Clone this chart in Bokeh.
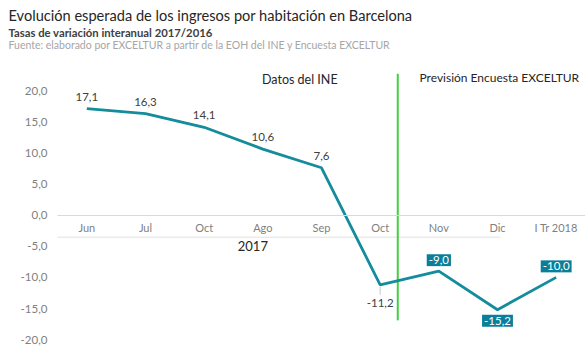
from bokeh.plotting import figure
from bokeh.models import ColumnDataSource, LabelSet, Label, FixedTicker, Range1d
from bokeh.core.properties import value
from bokeh.embed import file_html
from bokeh.resources import INLINE

# ---- data ----
categories = ["Jun", "Jul", "Oct", "Ago", "Sep", "Oct", "Nov", "Dic", "I Tr 2018"]
values = [17.1, 16.3, 14.1, 10.6, 7.6, -11.2, -9.0, -15.2, -10.0]
label_pos = ["above", "above", "above", "above", "above", "below", "above", "below", "above"]
boxed = [False, False, False, False, False, False, True, True, True]
y_ticks = [-20, -15, -10, -5, 0, 5, 10, 15, 20]
group_label = "2017"
title = "Evolución esperada de los ingresos por habitación en Barcelona"
subtitle = "Tasas de variación interanual 2017/2016"
source_txt = "Fuente: elaborado por EXCELTUR a partir de la EOH del INE y Encuesta EXCELTUR"
hdr_left = "Datos del INE"
hdr_right = "Previsión Encuesta EXCELTUR"

FONT = "Lato"
LINE_C = "#138c9c"
BOX_C = "#0b7f9a"


def fmt(v):
    return f"{v:.1f}".replace(".", ",")


xs = list(range(len(categories)))

# the frame covers the whole canvas; axes are pinned inside it
p = figure(width=585, height=351, output_backend="svg", toolbar_location=None,
           x_range=Range1d(-1.4715, 8.5), y_range=Range1d(-21.903, 34.455),
           min_border_left=0, min_border_right=0, min_border_top=0, min_border_bottom=0)
p.outline_line_color = None
p.background_fill_color = "white"
p.border_fill_color = "white"
p.xgrid.visible = False
p.ygrid.visible = False

# x axis at zero
xa = p.xaxis[0]
xa.fixed_location = 0
xa.bounds = (-0.5, 8.5)
xa.ticker = FixedTicker(ticks=xs)
xa.major_label_overrides = {i: c for i, c in zip(xs, categories)}
xa.axis_line_color = "#d9d9d9"
xa.axis_line_width = 1
xa.major_tick_line_color = None
xa.minor_tick_line_color = None
xa.major_label_text_color = "#7f7f7f"
xa.major_label_text_font = FONT
xa.major_label_text_font_size = "11px"
xa.major_label_standoff = 0

ya = p.yaxis[0]
ya.fixed_location = -0.5
ya.ticker = FixedTicker(ticks=y_ticks)
ya.major_label_overrides = {t: fmt(t) for t in y_ticks}
ya.axis_line_color = None
ya.major_tick_line_color = None
ya.minor_tick_line_color = None
ya.major_label_text_color = "#7f7f7f"
ya.major_label_text_font = FONT
ya.major_label_text_font_size = "11.5px"
ya.major_label_standoff = 4

# titles
p.add_layout(Label(x=-1.335, y=32.05, text=title, text_baseline="middle",
                   text_font=FONT, text_font_size="14.6px", text_color="#262626"))
p.add_layout(Label(x=-1.335, y=29.32, text=subtitle, text_baseline="middle",
                   text_font=FONT, text_font_size="11.3px", text_font_style="bold",
                   text_color="#404040"))
p.add_layout(Label(x=-1.335, y=27.39, text=source_txt, text_baseline="middle",
                   text_font=FONT, text_font_size="10.5px", text_color="#a6a6a6"))

# group separator and label under the category labels
p.segment(x0=[-0.5], y0=[-3.55], x1=[7.05], y1=[-3.55], line_color="#e3e3e3", line_width=1)
p.add_layout(Label(x=2.83, y=-5.0, text=group_label, text_align="center", text_baseline="middle",
                   text_font=FONT, text_font_size="13px", text_color="#262626"))

# divider
p.segment(x0=[5.3], y0=[22.7], x1=[5.3], y1=[-16.9], line_color="#42cf42", line_width=2)

# leader line for the label placed below the point
below_idx = [i for i in xs if label_pos[i] == "below" and not boxed[i]]
p.segment(x0=[xs[i] for i in below_idx], y0=[values[i] - 0.3 for i in below_idx],
          x1=[xs[i] for i in below_idx], y1=[values[i] - 1.6 for i in below_idx],
          line_color="#c8c8c8", line_width=1)

# line
p.line(xs, values, line_color=LINE_C, line_width=2.8)

# labels
def sel(cond):
    idx = [i for i in xs if cond(i)]
    return ColumnDataSource(dict(x=[xs[i] for i in idx], y=[values[i] for i in idx],
                                 t=[fmt(values[i]) for i in idx]))

src_above = sel(lambda i: label_pos[i] == "above" and not boxed[i])
src_below = sel(lambda i: label_pos[i] == "below" and not boxed[i])
src_box_above = sel(lambda i: label_pos[i] == "above" and boxed[i])
src_box_below = sel(lambda i: label_pos[i] == "below" and boxed[i])

p.add_layout(LabelSet(x="x", y="y", text="t", source=src_above, text_align="center",
                      text_baseline="bottom", y_offset=8, text_font=value(FONT),
                      text_font_size="11.5px", text_color="#404040"))
p.add_layout(LabelSet(x="x", y="y", text="t", source=src_below, text_align="center",
                      text_baseline="top", y_offset=-14, text_font=value(FONT),
                      text_font_size="11.5px", text_color="#404040"))
p.text(x="x", y="y", text="t", source=src_box_above, text_align="center",
       text_baseline="middle", y_offset=-11, text_font=value(FONT),
       text_font_size="11.5px", text_color="white",
       background_fill_color=BOX_C, padding=2)
p.text(x="x", y="y", text="t", source=src_box_below, text_align="center",
       text_baseline="middle", y_offset=11, text_font=value(FONT),
       text_font_size="11.5px", text_color="white",
       background_fill_color=BOX_C, padding=2)

# section headers
p.add_layout(Label(x=3.63, y=21.8, text=hdr_left, text_align="center", text_baseline="middle",
                   text_font=FONT, text_font_size="12.5px", text_color="#262626"))
p.add_layout(Label(x=5.67, y=22.1, text=hdr_right, text_align="left", text_baseline="middle",
                   text_font=FONT, text_font_size="12px", text_color="#262626"))

open("out.html", "w").write(file_html(p, INLINE))
